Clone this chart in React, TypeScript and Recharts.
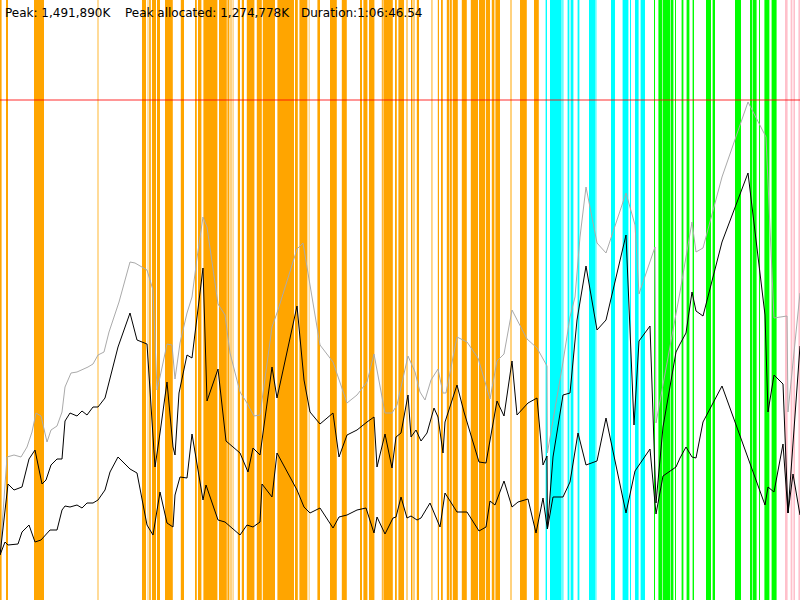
import * as React from 'react';
import {
  ComposedChart,
  Line,
  XAxis,
  YAxis,
  ReferenceArea,
  ReferenceLine,
} from 'recharts';

// time in seconds, memory in MB
type Pt = { t: number; mb: number };

const toPts = (rows: number[][]): Pt[] => rows.map(([t, mb]) => ({ t, mb }));

// total (grey)
const totalMem = toPts([
  [0, 135], [35, 429], [70, 435], [105, 429], [135, 459], [160, 504], [180, 561], [205, 552],
  [235, 474], [255, 510], [285, 522], [310, 564], [325, 639], [355, 681], [385, 684], [440, 699],
  [465, 708], [490, 735], [520, 744], [545, 804], [595, 894], [650, 1014], [675, 1011], [735, 990],
  [765, 930], [785, 630], [800, 669], [835, 768], [860, 765], [875, 663], [900, 771], [935, 861],
  [960, 909], [985, 1026], [1015, 1149], [1035, 1119], [1090, 888], [1125, 855], [1150, 741],
  [1200, 624], [1235, 591], [1270, 552], [1300, 555], [1360, 819], [1390, 870], [1485, 1053],
  [1515, 1071], [1560, 909], [1600, 765], [1665, 714], [1735, 591], [1785, 615], [1835, 654],
  [1870, 738], [1925, 561], [1960, 561], [1985, 585], [2040, 732], [2075, 684], [2100, 624],
  [2125, 600], [2155, 660], [2190, 693], [2215, 621], [2230, 621], [2285, 789], [2335, 774],
  [2390, 726], [2450, 603], [2485, 717], [2520, 738], [2560, 870], [2635, 783], [2685, 756],
  [2735, 702], [2737, 441], [2815, 714], [2850, 849], [2875, 909], [2900, 1089], [2930, 1239],
  [2985, 1071], [3030, 1041], [3130, 1221], [3175, 1125], [3195, 918], [3275, 1059], [3280, 531],
  [3400, 924], [3460, 1134], [3480, 1044], [3515, 1056], [3610, 1269], [3740, 1494], [3830, 1389],
  [3870, 846], [3935, 852], [3940, 564], [4000, 921],
]);

// allocated (upper black)
const allocMem = toPts([
  [0, 135], [40, 348], [70, 330], [110, 339], [145, 423], [175, 450], [210, 348], [230, 360],
  [255, 405], [285, 423], [310, 423], [325, 537], [350, 561], [385, 552], [410, 567], [435, 555],
  [465, 579], [490, 579], [525, 606], [590, 759], [650, 861], [685, 780], [735, 768], [775, 399],
  [800, 501], [835, 654], [865, 459], [875, 435], [895, 621], [935, 735], [960, 726], [1015, 996],
  [1035, 597], [1090, 693], [1130, 477], [1165, 459], [1200, 441], [1240, 384], [1265, 456],
  [1300, 435], [1360, 699], [1385, 606], [1485, 882], [1520, 660], [1550, 564], [1600, 528],
  [1665, 561], [1695, 429], [1735, 495], [1785, 510], [1835, 534], [1870, 549], [1885, 399],
  [1925, 498], [1960, 396], [1980, 489], [2005, 501], [2040, 615], [2055, 489], [2080, 510],
  [2105, 477], [2135, 501], [2170, 576], [2190, 549], [2215, 441], [2225, 534], [2285, 645],
  [2320, 564], [2395, 414], [2430, 411], [2485, 597], [2520, 552], [2560, 717], [2585, 555],
  [2640, 591], [2685, 606], [2715, 405], [2735, 432], [2737, 213], [2765, 429], [2815, 615],
  [2850, 621], [2885, 840], [2930, 1002], [2985, 810], [3030, 840], [3130, 1095], [3170, 525],
  [3195, 777], [3250, 822], [3280, 291], [3315, 519], [3380, 744], [3400, 768], [3430, 801],
  [3460, 924], [3480, 867], [3515, 852], [3610, 1074], [3740, 1281], [3825, 855], [3840, 564],
  [3870, 675], [3915, 648], [3940, 261], [4000, 762],
]);

// lower black
const liveMem = toPts([
  [0, 135], [25, 174], [40, 165], [90, 168], [110, 204], [145, 225], [175, 174], [205, 180],
  [250, 210], [285, 210], [310, 270], [325, 282], [350, 279], [385, 285], [410, 276], [435, 291],
  [465, 291], [490, 300], [525, 330], [550, 384], [590, 429], [650, 393], [685, 381], [735, 225],
  [765, 195], [800, 324], [835, 231], [865, 219], [875, 315], [900, 369], [935, 366], [960, 498],
  [1015, 300], [1030, 345], [1090, 240], [1125, 234], [1200, 195], [1235, 225], [1265, 219],
  [1300, 234], [1310, 348], [1360, 309], [1385, 441], [1485, 330], [1520, 279], [1550, 261],
  [1600, 276], [1665, 216], [1695, 249], [1735, 255], [1785, 270], [1830, 276], [1870, 201],
  [1885, 249], [1925, 198], [1965, 246], [1980, 249], [2005, 309], [2035, 246], [2055, 252],
  [2085, 240], [2105, 246], [2150, 291], [2200, 219], [2225, 321], [2285, 264], [2335, 264],
  [2395, 207], [2430, 219], [2450, 297], [2475, 285], [2520, 357], [2560, 279], [2590, 294],
  [2640, 303], [2680, 201], [2715, 306], [2737, 213], [2765, 309], [2815, 309], [2850, 354],
  [2890, 501], [2930, 405], [2985, 417], [3030, 546], [3130, 261], [3175, 387], [3250, 453],
  [3280, 258], [3315, 372], [3380, 399], [3400, 426], [3430, 459], [3460, 429], [3480, 426],
  [3515, 534], [3610, 642], [3825, 285], [3840, 339], [3870, 324], [3915, 468], [3940, 261],
  [3965, 378], [4000, 255],
]);

// phase bands [start, end] in seconds
const orangeBands = [
  [0, 8], [30, 40], [170, 220], [488, 492], [710, 730], [746, 754], [760, 780], [785, 800],
  [825, 864], [904, 920], [975, 984], [990, 1007], [1017, 1087], [1095, 1134], [1137, 1147],
  [1189, 1200], [1209, 1220], [1234, 1272], [1284, 1309], [1314, 1375], [1387, 1470],
  [1475, 1489], [1497, 1537], [1544, 1547], [1587, 1600], [1650, 1684], [1709, 1734],
  [1800, 1810], [1817, 1837], [1845, 1872], [1909, 1914], [1917, 1964], [1975, 1984],
  [1992, 2020], [2055, 2062], [2084, 2095], [2189, 2195], [2205, 2214], [2234, 2247],
  [2250, 2259], [2264, 2289], [2309, 2334], [2354, 2390], [2395, 2425], [2429, 2450],
  [2459, 2472], [2477, 2500], [2600, 2634], [2670, 2694],
];
const paleOrangeBands = [
  [737, 743], [1150, 1160], [1162, 1169], [2030, 2040], [2064, 2075], [2155, 2164], [2550, 2560],
];
const cyanBands = [
  [2728, 2735], [2750, 2808], [2812, 2817], [2838, 2847], [2853, 2867], [2888, 2897],
  [2945, 2975], [2977, 2982], [3055, 3075], [3113, 3142], [3150, 3155], [3175, 3193], [3203, 3225],
];
const greenBands = [
  [3270, 3275], [3292, 3312], [3315, 3350], [3353, 3367], [3375, 3380], [3408, 3417],
  [3433, 3447], [3463, 3470], [3530, 3555], [3563, 3575], [3675, 3705], [3750, 3760],
  [3763, 3783], [3795, 3800], [3822, 3847], [3858, 3883],
];
const pinkBands = [[3925, 3938], [3953, 3962], [3967, 3975], [3992, 4000]];

const peakMb = 1500;
const headerItems = ['Peak: 1,491,890K', 'Peak allocated: 1,274,778K', 'Duration:1:06:46.54'];
const headerX = [5, 125, 301];

const W = 800;
const H = 600;

function bands(list: number[][], color: string, key: string, opacity = 1) {
  return list.map(([a, b], i) => (
    <ReferenceArea
      key={`${key}-${i}`}
      x1={a}
      x2={b}
      fill={color}
      fillOpacity={opacity}
      stroke="none"
      ifOverflow="visible"
    />
  ));
}

export default function App() {
  return (
    <div style={{ position: 'absolute', left: 0, top: 0, width: W, height: H, background: '#fff' }}>
      <ComposedChart width={W} height={H} margin={{ top: 0, right: 0, bottom: 0, left: 0 }}>
        <XAxis type="number" dataKey="t" domain={[0, 4000]} hide allowDataOverflow />
        <YAxis type="number" domain={[0, 1800]} hide allowDataOverflow />
        {bands(orangeBands, '#ffa500', 'o')}
        {bands(paleOrangeBands, '#ffa500', 'po', 0.5)}
        {bands(cyanBands, '#00ffff', 'c')}
        {bands(greenBands, '#00ff00', 'g')}
        {bands(pinkBands, '#ffc0cb', 'p')}
        <ReferenceLine y={peakMb} stroke="#ff0000" strokeOpacity={0.55} strokeWidth={1.5} />
        <Line data={totalMem} dataKey="mb" type="linear" stroke="#aaaaaa" strokeWidth={1} dot={false} isAnimationActive={false} />
        <Line data={allocMem} dataKey="mb" type="linear" stroke="#000000" strokeWidth={1} dot={false} isAnimationActive={false} />
        <Line data={liveMem} dataKey="mb" type="linear" stroke="#000000" strokeWidth={1} dot={false} isAnimationActive={false} />
      </ComposedChart>
      <svg width={W} height={30} style={{ position: 'absolute', left: 0, top: 0 }}>
        {headerItems.map((s, i) => (
          <text key={i} x={headerX[i]} y={17} fontFamily="DejaVu Sans" fontSize={12} fill="#000">
            {s}
          </text>
        ))}
      </svg>
    </div>
  );
}
